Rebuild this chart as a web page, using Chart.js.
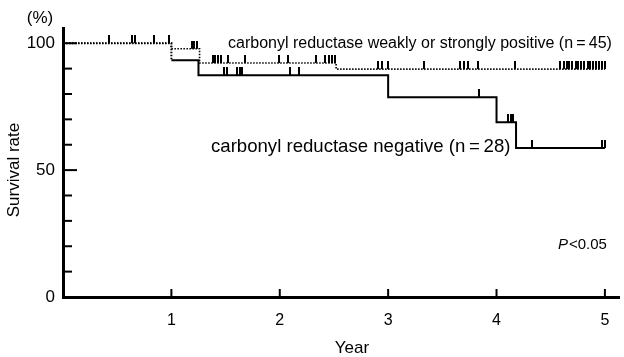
<!DOCTYPE html>
<html>
<head>
<meta charset="utf-8">
<script src="https://cdn.jsdelivr.net/npm/chart.js@4.4.0/dist/chart.umd.min.js"></script>
<style>
    html, body { margin: 0; padding: 0; background: #fff; }
    #wrap { width: 624px; height: 357px; position: relative; }
</style>
</head>
<body>
<div id="wrap"><canvas id="chart"></canvas></div>
<script>
// Kaplan-Meier steps: [year, survival %]
const positiveSteps = [[0, 100], [1.0, 97.8], [1.26, 92.2], [2.52, 89.8], [5.0, 89.8]];
const negativeSteps = [[0, 100], [1.0, 93.3], [1.25, 87.4], [3.0, 78.7], [4.0, 68.9], [4.18, 58.7], [5.0, 58.7]];

// censored cases (year)
const positiveCensored = [
    0.42, 0.64, 0.66, 0.84, 0.98,
    1.19, 1.21, 1.24,
    1.38, 1.40, 1.43, 1.46, 1.52, 1.68, 1.99, 2.08, 2.33, 2.42, 2.45, 2.48, 2.51,
    2.91, 2.94, 3.0, 3.33, 3.66, 3.70, 3.74, 3.83, 4.17,
    4.59, 4.62, 4.65, 4.67, 4.70, 4.73, 4.75, 4.78, 4.81, 4.84, 4.86, 4.89, 4.92, 4.95, 4.97, 5.0
];
const negativeCensored = [
    1.49, 1.51, 1.61, 1.63, 1.65, 2.09, 2.18,
    3.84,
    4.11, 4.13, 4.15,
    4.33, 4.97, 5.0
];

const xTickLabels = [1, 2, 3, 4, 5];
const yTickLabels = [0, 50, 100];

const FONT = '"Liberation Sans", Arial, Helvetica, sans-serif';

function survivalAt(steps, t) {
    let s = steps[0][1];
    steps.forEach(([x, y]) => { if (x <= t) s = y; });
    return s;
}

// short upward tick used as the censor mark
function censorMark() {
    const c = document.createElement('canvas');
    c.width = 2;
    c.height = 16;
    const g = c.getContext('2d');
    g.fillStyle = '#000';
    g.fillRect(0, 0, 2, 8);
    return c;
}
const mark = censorMark();

const axisDecor = {
    id: 'axisDecor',
    afterDraw(chart) {
        const { ctx, chartArea, scales: { x, y } } = chart;
        ctx.save();
        ctx.strokeStyle = '#000';
        ctx.lineWidth = 2;

        // inward ticks
        y.ticks.forEach(t => {
            const py = y.getPixelForValue(t.value);
            const len = yTickLabels.includes(t.value) ? 14 : 9;
            ctx.beginPath();
            ctx.moveTo(chartArea.left, py);
            ctx.lineTo(chartArea.left + len, py);
            ctx.stroke();
        });
        xTickLabels.forEach(v => {
            const px = x.getPixelForValue(v);
            ctx.beginPath();
            ctx.moveTo(px, chartArea.bottom);
            ctx.lineTo(px, chartArea.bottom - 8);
            ctx.stroke();
        });

        ctx.fillStyle = '#000';
        ctx.textBaseline = 'alphabetic';

        ctx.font = `17px ${FONT}`;
        ctx.textAlign = 'center';
        ctx.fillText('(%)', 40, 23);
        ctx.fillText('Year', 352, 353);

        ctx.save();
        ctx.translate(19, 170);
        ctx.rotate(-Math.PI / 2);
        ctx.fillText('Survival rate', 0, 0);
        ctx.restore();

        ctx.textAlign = 'left';
        ctx.font = `16px ${FONT}`;
        ctx.fillText('carbonyl reductase weakly or strongly positive (n\u2009=\u200945)', 228, 48);
        ctx.font = `18.6px ${FONT}`;
        ctx.fillText('carbonyl reductase negative (n\u2009=\u200928)', 211, 152);

        ctx.font = `italic 15px ${FONT}`;
        ctx.fillText('P', 558, 249);
        const pw = ctx.measureText('P').width;
        ctx.font = `15px ${FONT}`;
        ctx.fillText('<0.05', 558 + pw + 1, 249);

        ctx.restore();
    }
};

new Chart(document.getElementById('chart'), {
    type: 'line',
    data: {
        datasets: [
            {
                data: negativeSteps.map(([x, y]) => ({ x, y })),
                stepped: 'before',
                borderColor: '#000',
                borderWidth: 2,
                pointRadius: 0,
                segment: {
                    // before the first death the two curves coincide; the dotted one shows
                    borderDash: ctx => ctx.p0DataIndex === 0 ? [1.5, 1.5] : undefined
                }
            },
            {
                data: positiveSteps.map(([x, y]) => ({ x, y })),
                stepped: 'before',
                borderColor: '#000',
                borderWidth: 1.6,
                borderDash: [1.5, 1.5],
                pointRadius: 0
            },
            {
                data: negativeCensored.map(t => ({ x: t, y: survivalAt(negativeSteps, t) })),
                showLine: false,
                pointStyle: mark,
                pointRadius: 4
            },
            {
                data: positiveCensored.map(t => ({ x: t, y: survivalAt(positiveSteps, t) })),
                showLine: false,
                pointStyle: mark,
                pointRadius: 4
            }
        ]
    },
    options: {
        responsive: true,
        maintainAspectRatio: false,
        animation: false,
        layout: {
            padding: { top: 28, right: 2, left: 0, bottom: 0 }
        },
        plugins: {
            legend: { display: false },
            tooltip: { enabled: false }
        },
        scales: {
            x: {
                type: 'linear',
                min: 0,
                max: 5.13,
                afterFit: scale => { scale.height = 60; },
                grid: { display: true, drawOnChartArea: false, drawTicks: false },
                border: { display: true, color: '#000', width: 3 },
                ticks: {
                    stepSize: 1,
                    includeBounds: false,
                    padding: 14,
                    color: '#000',
                    font: { family: FONT, size: 16 },
                    callback: v => xTickLabels.includes(v) ? String(v) : ''
                }
            },
            y: {
                min: 0,
                max: 106,
                afterFit: scale => { scale.width = 63; },
                grid: { display: true, drawOnChartArea: false, drawTicks: false },
                border: { display: true, color: '#000', width: 3 },
                ticks: {
                    stepSize: 10,
                    includeBounds: false,
                    padding: 8,
                    color: '#000',
                    font: { family: FONT, size: 17 },
                    callback: v => yTickLabels.includes(v) ? String(v) : ''
                }
            }
        }
    },
    plugins: [axisDecor]
});
</script>
</body>
</html>
